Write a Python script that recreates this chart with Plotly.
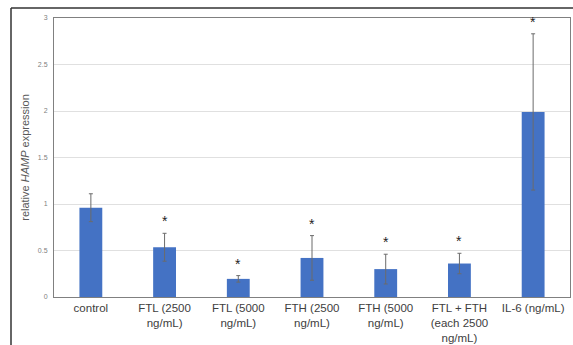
import plotly.graph_objects as go

categories = ["control", "FTL (2500<br>ng/mL)", "FTL (5000<br>ng/mL)", "FTH (2500<br>ng/mL)",
              "FTH (5000<br>ng/mL)", "FTL + FTH<br>(each 2500<br>ng/mL)", "IL-6 (ng/mL)"]
means = [0.96, 0.535, 0.195, 0.42, 0.30, 0.36, 1.99]
errors = [0.15, 0.15, 0.035, 0.24, 0.16, 0.11, 0.84]
significant = [False, True, True, True, True, True, True]
y_ticks = [0, 0.5, 1, 1.5, 2, 2.5, 3]
y_tick_labels = ["0", "0.5", "1", "1.5", "2", "2.5", "3"]

fig = go.Figure()
fig.add_trace(go.Bar(
    x=categories, y=means,
    marker=dict(color="#4472C4", line=dict(width=0)),
    error_y=dict(type="data", array=errors, visible=True, color="#6b6b6b", thickness=1, width=2),
))

for c, m, e, s in zip(categories, means, errors, significant):
    if s:
        fig.add_annotation(x=c, y=m + e, text="*", showarrow=False, yanchor="bottom",
                           yshift=2, font=dict(size=14, color="#222222", family="Arial"))

fig.update_layout(
    width=573, height=345,
    margin=dict(l=54, r=3, t=18, b=48, autoexpand=False),
    paper_bgcolor="white", plot_bgcolor="white",
    showlegend=False,
    bargap=0.69,
    font=dict(family="Liberation Sans, Arial", color="#404040"),
    xaxis=dict(showline=True, linecolor="#808080", linewidth=1, mirror=True, automargin=False,
               tickfont=dict(size=11.5, color="#404040"), ticks="", showgrid=False),
    yaxis=dict(range=[0, 3], tickvals=y_ticks, ticktext=y_tick_labels, automargin=False,
               showline=True, linecolor="#808080", linewidth=1, mirror=True,
               gridcolor="#e0e0e0", gridwidth=1, ticks="", zeroline=False, ticklabelstandoff=4,
               tickfont=dict(size=7, color="#808080"),
               title=dict(text="relative <i>HAMP</i> expression", standoff=6,
                          font=dict(size=11, color="#595959"))),
)

# outer frame lines (top and left)
fig.add_shape(type="line", xref="paper", yref="paper", x0=(11 - 54) / 516, x1=1.01,
              y0=1 + 10 / 279, y1=1 + 10 / 279, line=dict(color="#333333", width=1.5))
fig.add_shape(type="line", xref="paper", yref="paper", x0=(11 - 54) / 516, x1=(11 - 54) / 516,
              y0=1 + 10 / 279, y1=-0.2, line=dict(color="#333333", width=1.5))

fig.write_html("out.html", config={"displayModeBar": False},
               post_script="document.body.style.margin='0';document.body.style.overflow='hidden';")
